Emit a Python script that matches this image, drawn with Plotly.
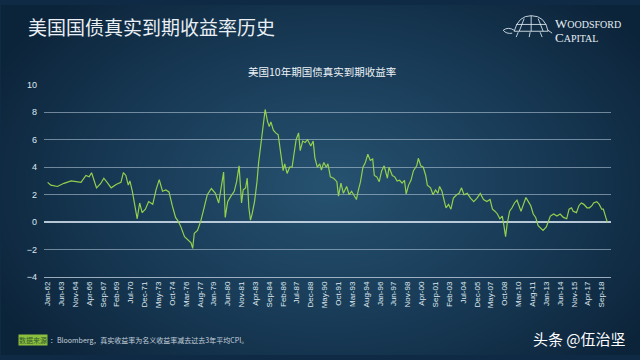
import plotly.graph_objects as go
import numpy as np

# ---------------- data ----------------
dates = [
    "1962-01", "1962-05", "1963-01", "1963-09", "1964-06", "1965-06", "1965-12", "1966-04",
    "1966-07", "1966-10", "1967-01", "1967-06", "1967-10", "1968-02", "1968-07", "1969-01",
    "1969-07", "1969-10", "1970-01", "1970-04", "1970-06", "1970-09", "1971-01", "1971-03",
    "1971-06", "1971-09", "1972-01", "1972-05", "1972-10", "1973-02", "1973-06", "1973-10",
    "1974-02", "1974-06", "1974-10", "1975-02", "1975-05", "1975-08", "1976-01", "1976-05",
    "1976-09", "1976-11", "1977-01", "1977-05", "1977-09", "1978-01", "1978-05", "1978-10",
    "1979-03", "1979-07", "1979-11", "1980-01", "1980-03", "1980-06", "1980-10", "1981-02",
    "1981-05", "1981-08", "1981-11", "1982-01", "1982-04", "1982-06", "1982-08", "1982-10",
    "1982-12", "1983-03", "1983-06", "1983-08", "1983-11", "1984-02", "1984-04", "1984-07",
    "1984-09", "1984-11", "1985-02", "1985-05", "1985-08", "1985-11", "1986-02", "1986-04",
    "1986-07", "1986-10", "1987-01", "1987-04", "1987-06", "1987-09", "1987-11", "1988-02",
    "1988-05", "1988-08", "1988-12", "1989-03", "1989-05", "1989-08", "1989-11", "1990-01",
    "1990-04", "1990-07", "1990-09", "1990-12", "1991-04", "1991-08", "1991-10", "1992-01",
    "1992-04", "1992-08", "1992-11", "1993-02", "1993-05", "1993-08", "1993-10", "1994-01",
    "1994-04", "1994-07", "1994-10", "1995-01", "1995-04", "1995-06", "1995-09", "1995-12",
    "1996-03", "1996-06", "1996-10", "1996-12", "1997-04", "1997-07", "1997-10", "1998-01",
    "1998-04", "1998-07", "1998-09", "1998-12", "1999-03", "1999-06", "1999-10", "1999-12",
    "2000-03", "2000-06", "2000-09", "2000-11", "2001-03", "2001-06", "2001-09", "2001-12",
    "2002-02", "2002-05", "2002-08", "2002-10", "2003-01", "2003-04", "2003-07", "2003-11",
    "2004-02", "2004-05", "2004-08", "2004-12", "2005-04", "2005-08", "2005-12", "2006-04",
    "2006-08", "2006-12", "2007-04", "2007-07", "2007-10", "2008-01", "2008-04", "2008-07",
    "2008-09", "2008-11", "2009-01", "2009-04", "2009-07", "2009-10", "2010-01", "2010-04",
    "2010-06", "2010-09", "2010-12", "2011-03", "2011-06", "2011-09", "2011-12", "2012-03",
    "2012-06", "2012-09", "2013-01", "2013-03", "2013-06", "2013-10", "2014-02", "2014-06",
    "2014-10", "2015-02", "2015-05", "2015-08", "2015-10", "2016-02", "2016-05", "2016-08",
    "2016-11", "2017-03", "2017-06", "2017-09", "2017-11", "2018-03", "2018-06", "2018-09",
    "2018-11", "2019-02", "2019-04",
]
real_yield = [
    2.9, 2.7, 2.6, 2.83, 3.0, 2.9, 3.4, 3.3,
    3.6, 3.1, 2.5, 2.8, 3.2, 2.9, 2.5, 2.75,
    2.9, 3.6, 3.4, 2.7, 3.0, 2.25, 1.05, 0.25,
    1.4, 0.7, 0.95, 1.5, 1.3, 2.35, 3.1, 2.25,
    2.35, 2.2, 1.2, 0.35, 0.1, -0.25, -1.05, -1.3,
    -1.5, -1.9, -0.8, -0.6, 0.1, 1.05, 2.0, 2.45,
    2.1, 1.4, 2.95, 3.65, 0.35, 1.5, 1.9, 2.25,
    2.95, 4.1, 1.4, 2.35, 2.5, 3.2, 1.05, 0.15,
    0.6, 1.5, 2.95, 4.35, 5.8, 7.4, 8.2, 7.3,
    6.95, 7.3, 6.7, 6.5, 6.35, 5.05, 3.75, 4.25,
    3.55, 4.0, 4.0, 5.2, 6.0, 6.5, 5.2, 5.9,
    5.8, 6.0, 5.55, 5.9, 4.7, 4.0, 4.25, 3.8,
    4.35, 4.0, 4.25, 3.3, 3.2, 2.95, 1.9, 2.85,
    2.1, 2.6, 2.0, 2.25, 1.9, 1.65, 2.25, 2.95,
    4.0, 4.35, 4.95, 4.5, 4.6, 3.4, 3.3, 2.95,
    3.75, 4.1, 3.2, 4.0, 3.4, 3.3, 3.0, 3.05,
    2.85, 3.05, 2.05, 2.7, 3.05, 3.75, 4.1, 4.65,
    4.1, 4.0, 3.4, 2.7, 2.5, 2.0, 2.35, 2.1,
    2.6, 2.25, 1.5, 1.05, 1.3, 0.95, 1.75, 2.0,
    2.1, 2.5, 2.0, 2.1, 1.75, 1.5, 1.75, 2.1,
    1.65, 1.5, 1.65, 0.95, 0.8, 0.6, 0.25, 0.45,
    -0.25, -1.05, -0.1, 0.8, 1.05, 1.4, 1.6, 1.05,
    0.8, 1.3, 1.8, 1.5, 1.2, 0.6, 0.35, -0.25,
    -0.45, -0.6, -0.35, 0.0, 0.45, 0.6, 0.45, 0.6,
    0.35, 0.25, 0.95, 1.05, 0.8, 0.7, 1.2, 1.4,
    1.3, 1.05, 1.05, 1.2, 1.4, 1.5, 1.3, 0.95,
    0.95, 0.35, 0.0,
]
x_tick_labels = [
    "Jan-62", "Jun-63", "Nov-64", "Apr-66", "Sep-67", "Feb-69", "Jul-70", "Dec-71",
    "May-73", "Oct-74", "Mar-76", "Aug-77", "Jan-79", "Jun-80", "Nov-81", "Apr-83",
    "Sep-84", "Feb-86", "Jul-87", "Dec-88", "May-90", "Oct-91", "Mar-93", "Aug-94",
    "Jan-96", "Jun-97", "Nov-98", "Apr-00", "Sep-01", "Feb-03", "Jul-04", "Dec-05",
    "May-07", "Oct-08", "Mar-10", "Aug-11", "Jan-13", "Jun-14", "Nov-15", "Apr-17",
    "Sep-18",
]
y_ticks = [-4, -2, 0, 2, 4, 6, 8, 10]

title_text = "美国国债真实到期收益率历史"
chart_title = "美国10年期国债真实到期收益率"
source_label = "数据来源"
source_text = "：Bloomberg，真实收益率为名义收益率减去过去3年平均CPI。"
watermark = "头条 @伍治坚"

# ---------------- helpers ----------------
MONTHS = {m: i + 1 for i, m in enumerate(
    ["Jan", "Feb", "Mar", "Apr", "May", "Jun", "Jul", "Aug", "Sep", "Oct", "Nov", "Dec"])}


def label_to_date(lbl):
    mon, yy = lbl.split("-")
    yy = int(yy)
    year = 1900 + yy if yy >= 50 else 2000 + yy
    return f"{year}-{MONTHS[mon]:02d}-01"


tick_vals = [label_to_date(l) for l in x_tick_labels]
x_dates = [d + "-01" for d in dates]

W, H = 640, 360
CJK = "Noto Sans CJK SC"
TXT = "#dfe7ee"

# background radial gradient (decoration only)
gx = np.linspace(-10, W + 10, 67)
gy = np.linspace(-10, H + 10, 39)
GX, GY = np.meshgrid(gx, gy)
dist = np.sqrt(((GX - 330) / 380.0) ** 2 + ((GY - 185) / 260.0) ** 2)
dist = np.clip(dist, 0, 1)

fig = go.Figure()
fig.add_trace(go.Heatmap(
    x=gx, y=gy, z=dist, zmin=0, zmax=1, zsmooth="best",
    colorscale=[[0, "rgb(38,82,112)"], [0.55, "rgb(24,58,86)"], [1, "rgb(12,36,58)"]],
    showscale=False, hoverinfo="skip", xaxis="x", yaxis="y",
))
fig.add_trace(go.Scatter(
    x=x_dates, y=real_yield, mode="lines",
    line=dict(color="#93d04e", width=1.2),
    xaxis="x2", yaxis="y2", showlegend=False,
))

x0, x1 = 43, 611
ytop, ybot = 82, 280

fig.update_layout(
    width=W, height=H,
    margin=dict(l=0, r=0, t=0, b=0),
    paper_bgcolor="#0f2a44",
    plot_bgcolor="rgba(0,0,0,0)",
    showlegend=False,
    xaxis=dict(domain=[0, 1], range=[0, W], visible=False, fixedrange=True),
    yaxis=dict(domain=[0, 1], range=[H, 0], visible=False, fixedrange=True),
    xaxis2=dict(
        domain=[x0 / W, x1 / W], anchor="y2", type="date",
        range=["1961-08-16", "2019-08-16"],
        tickvals=tick_vals, ticktext=x_tick_labels, tickangle=-90,
        tickfont=dict(family="Liberation Sans", size=8, color=TXT),
        showgrid=False, showline=True, linecolor="rgba(200,215,228,0.75)", linewidth=1.2,
        ticks="", zeroline=False,
    ),
    yaxis2=dict(
        domain=[(H - ybot) / H, (H - ytop) / H], anchor="x2",
        range=[-4, 10], tickvals=y_ticks,
        tickfont=dict(family="Liberation Sans", size=9, color=TXT),
        showgrid=True, gridcolor="rgba(190,208,224,0.55)", gridwidth=1.2,
        zeroline=True, zerolinecolor="rgba(210,225,238,0.85)", zerolinewidth=1.5,
        showline=False, ticks="", ticklabelstandoff=6,
    ),
)

# simple turtle emblem next to the logo text (decoration)
logo_line = dict(color="rgba(225,235,242,0.85)", width=1)
fig.add_shape(type="path", xref="x", yref="y", line=logo_line,
              path="M 514 27 Q 518 11 531 11 Q 545 11 548 27 Z")
fig.add_shape(type="path", xref="x", yref="y", line=logo_line,
              path="M 519 27 L 524 14 M 531 11 L 531 27 M 543 27 L 538 14 M 516 20 L 546 20")
fig.add_shape(type="path", xref="x", yref="y", line=logo_line,
              path="M 514 26 Q 508 22 503 26 Q 506 30 512 29 M 518 28 L 516 33 M 530 28 L 529 33 "
                   "M 540 28 L 542 33 M 548 26 L 552 29")

annotations = [
    dict(text=title_text, x=25, y=22, xref="x", yref="y", xanchor="left", yanchor="middle",
         showarrow=False, font=dict(family=CJK, size=19, color="#e9eff4")),
    dict(text=chart_title, x=321, y=68, xref="x", yref="y", xanchor="center", yanchor="middle",
         showarrow=False, font=dict(family=CJK, size=10.5, color="#eef3f7")),
    dict(text="W<span style='font-size:10px'>OODSFORD</span>", x=553, y=19, xref="x", yref="y",
         xanchor="left", yanchor="middle", showarrow=False,
         font=dict(family="Liberation Serif", size=13, color="#e6edf2")),
    dict(text="C<span style='font-size:10px'>APITAL</span>", x=553, y=33, xref="x", yref="y",
         xanchor="left", yanchor="middle", showarrow=False,
         font=dict(family="Liberation Serif", size=13, color="#e6edf2")),
    dict(text=source_label, x=17, y=345, xref="x", yref="y", xanchor="left", yanchor="middle",
         showarrow=False, bgcolor="#8dbf3f", borderpad=0,
         font=dict(family=CJK, size=7, color="#2d5a2a")),
    dict(text=source_text, x=47, y=345, xref="x", yref="y", xanchor="left", yanchor="middle",
         showarrow=False, font=dict(family=CJK, size=7, color="#c6d2dc")),
    dict(text=watermark, x=628, y=343, xref="x", yref="y", xanchor="right", yanchor="middle",
         showarrow=False, font=dict(family=CJK, size=15, color="#ffffff")),
]
fig.update_layout(annotations=annotations)

fig.write_html(
    "out.html",
    config={"displayModeBar": False, "staticPlot": True},
    post_script="document.body.style.margin='0';document.body.style.overflow='hidden';",
)
